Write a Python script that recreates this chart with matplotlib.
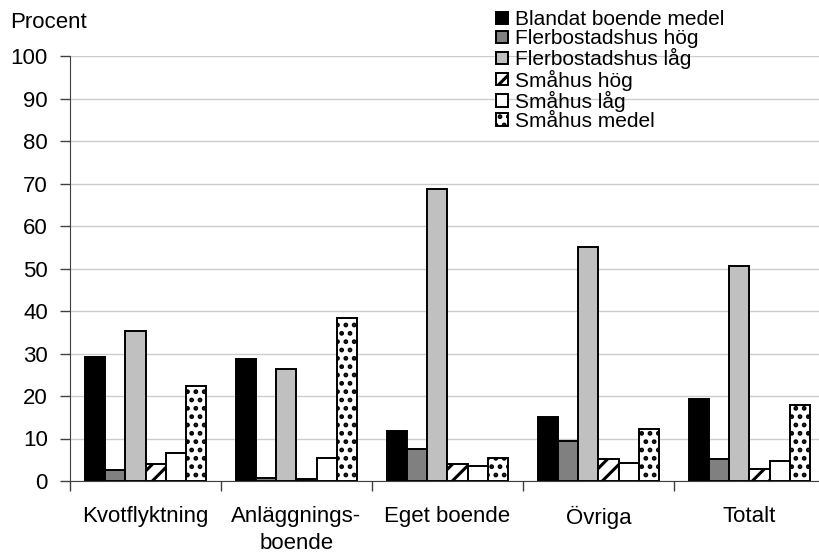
import numpy as np
import matplotlib.pyplot as plt

plt.rcParams['font.family'] = ['Liberation Sans', 'DejaVu Sans']
plt.rcParams['hatch.linewidth'] = 2.2

# Data (percent)
categories = ["Kvotflyktning", "Anläggnings-\nboende", "Eget boende", "Övriga", "Totalt"]
series_names = ["Blandat boende medel", "Flerbostadshus hög", "Flerbostadshus låg",
                "Småhus hög", "Småhus låg", "Småhus medel"]
blandat_medel = [29.2, 28.8, 11.8, 15.1, 19.2]
fler_hog = [2.6, 0.8, 7.6, 9.3, 5.1]
fler_lag = [35.4, 26.3, 68.8, 55.0, 50.6]
smahus_hog = [3.9, 0.4, 3.9, 5.1, 2.8]
smahus_lag = [6.7, 5.4, 3.6, 4.3, 4.7]
smahus_medel = [22.3, 38.3, 5.4, 12.2, 17.8]
yticks = list(range(0, 101, 10))

series = [blandat_medel, fler_hog, fler_lag, smahus_hog, smahus_lag, smahus_medel]
facecolors = ["#000000", "#808080", "#c0c0c0", "#ffffff", "#ffffff", "#ffffff"]
hatches = [None, None, None, "//", None, ".."]

fig = plt.figure(figsize=(8.2, 5.55), dpi=100)
ax = fig.add_axes([70 / 820, 74 / 555, 755 / 820, 425 / 555])

x = np.arange(len(categories))
w = 0.1345
for i, (vals, fc, h, name) in enumerate(zip(series, facecolors, hatches, series_names)):
    ax.bar(x + (i - 2.5) * w, vals, width=w, color=fc, edgecolor="black",
           linewidth=1.4, hatch=h, label=name, zorder=3)

ax.set_xlim(-0.5, len(categories) - 0.5)
ax.set_ylim(0, 100)
ax.set_yticks(yticks)
ax.yaxis.grid(True, color="#cccccc", linewidth=1.0, zorder=0)
ax.tick_params(axis="y", labelsize=16, length=7, width=1, color="#404040", pad=9)

# boundary ticks as major, category labels as minor
ax.set_xticks(np.arange(-0.5, len(categories) + 0.5, 1))
ax.set_xticklabels([])
ax.set_xticks(x, minor=True)
ax.set_xticklabels(categories, minor=True, linespacing=1.35)
ax.tick_params(axis="x", which="major", length=7, width=1, color="#404040")
ax.tick_params(axis="x", which="minor", length=0, labelsize=16, pad=18)

for s in ["top", "right"]:
    ax.spines[s].set_visible(False)
ax.spines["left"].set_color("#404040")
ax.spines["bottom"].set_color("#404040")
ax.spines["bottom"].set_zorder(4)

fig.text(10 / 820, 1 - 23 / 555, "Procent", fontsize=16, va="center", ha="left")

leg = ax.legend(loc="upper left", bbox_to_anchor=(486 / 820, 1.0), bbox_transform=fig.transFigure,
                fontsize=15, frameon=False, handlelength=0.55, handleheight=0.55,
                handletextpad=0.35, labelspacing=0.0, borderaxespad=0.1)

fig.savefig("out.png", dpi=100)
